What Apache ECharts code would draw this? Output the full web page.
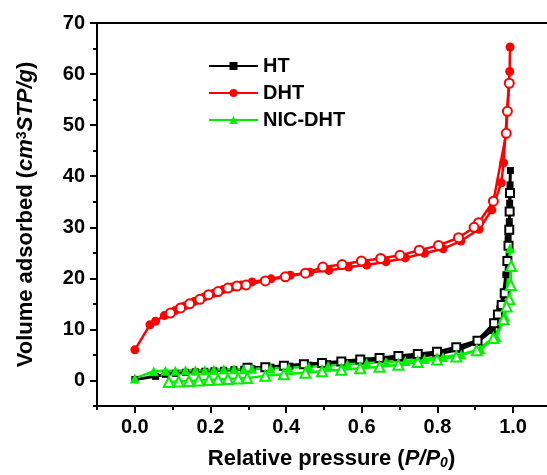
<!DOCTYPE html>
<html>
<head>
<meta charset="utf-8">
<script src="https://cdn.jsdelivr.net/npm/echarts@6/dist/echarts.min.js"></script>
<style>
  html, body { margin: 0; padding: 0; background: #fff; }
  #chart { width: 547px; height: 475px; }
</style>
</head>
<body>
<div id="chart"></div>
<script>
// N2 adsorption / desorption isotherms (relative pressure vs. volume adsorbed)

// HT
const htAdsP = [0.0, 0.055, 0.081, 0.107, 0.134, 0.16, 0.185, 0.209, 0.235, 0.262, 0.288, 0.31, 0.36, 0.41, 0.46, 0.51, 0.56, 0.61, 0.66, 0.71, 0.76, 0.81, 0.86, 0.905, 0.945, 0.965, 0.975, 0.981, 0.987, 0.99, 0.991, 0.992, 0.993];
const htAdsV = [0.2, 0.8, 1.2, 1.4, 1.6, 1.7, 1.8, 1.9, 2.0, 2.1, 2.2, 2.3, 2.6, 2.8, 3.0, 3.3, 3.5, 3.8, 4.1, 4.4, 4.8, 5.3, 6.1, 7.5, 9.8, 14.0, 17.0, 20.7, 27.9, 31.1, 34.7, 38.3, 41.1];
const htDesP = [0.992, 0.991, 0.99, 0.988, 0.985, 0.978, 0.97, 0.96, 0.95, 0.906, 0.85, 0.799, 0.748, 0.697, 0.647, 0.596, 0.546, 0.495, 0.447, 0.394, 0.345, 0.298];
const htDesV = [36.7, 33.1, 29.5, 26.4, 23.4, 17.1, 14.8, 12.9, 11.2, 7.8, 6.5, 5.6, 5.2, 4.8, 4.4, 4.1, 3.7, 3.4, 3.2, 2.9, 2.6, 2.5];

// DHT
const dhtAdsP = [0.0, 0.04, 0.055, 0.078, 0.107, 0.132, 0.158, 0.182, 0.209, 0.233, 0.257, 0.281, 0.31, 0.36, 0.411, 0.463, 0.513, 0.565, 0.613, 0.664, 0.715, 0.766, 0.815, 0.862, 0.91, 0.944, 0.969, 0.975, 0.991, 0.992];
const dhtAdsV = [6.0, 10.9, 11.6, 12.7, 13.7, 14.6, 15.5, 16.3, 17.1, 17.8, 18.3, 18.7, 19.3, 19.9, 20.6, 21.2, 21.55, 22.2, 22.6, 23.25, 24.0, 24.9, 25.8, 27.3, 29.6, 33.4, 38.7, 42.6, 60.5, 65.3];
const dhtDesP = [0.99, 0.985, 0.982, 0.948, 0.909, 0.897, 0.856, 0.803, 0.752, 0.701, 0.65, 0.599, 0.548, 0.497, 0.451, 0.398, 0.345, 0.294, 0.27, 0.246, 0.22, 0.195, 0.172, 0.145, 0.121, 0.094];
const dhtDesV = [58.2, 52.7, 48.4, 35.1, 30.9, 30.0, 27.95, 26.45, 25.5, 24.5, 23.9, 23.4, 22.7, 22.2, 21.0, 20.3, 19.5, 18.7, 18.5, 18.1, 17.4, 16.8, 15.9, 15.0, 14.2, 13.2];

// NIC-DHT
const nicAdsP = [0.0, 0.05, 0.081, 0.107, 0.134, 0.16, 0.185, 0.209, 0.235, 0.262, 0.288, 0.31, 0.359, 0.407, 0.46, 0.511, 0.562, 0.613, 0.664, 0.715, 0.766, 0.815, 0.863, 0.914, 0.956, 0.979, 0.992];
const nicAdsV = [0.4, 1.8, 1.9, 1.9, 2.0, 2.0, 2.0, 2.1, 2.2, 2.2, 2.2, 2.3, 2.4, 2.5, 2.7, 2.9, 3.2, 3.4, 3.6, 3.8, 4.2, 4.6, 5.1, 6.1, 8.5, 12.5, 25.9];
const nicDesP = [0.995, 0.994, 0.99, 0.983, 0.975, 0.948, 0.904, 0.85, 0.799, 0.748, 0.697, 0.647, 0.596, 0.546, 0.495, 0.451, 0.394, 0.345, 0.297, 0.273, 0.246, 0.22, 0.196, 0.169, 0.143, 0.116, 0.09];
const nicDesV = [22.4, 18.7, 15.9, 14.5, 12.0, 8.3, 5.9, 4.7, 4.1, 3.6, 3.1, 2.7, 2.4, 2.1, 1.8, 1.5, 1.2, 0.9, 0.5, 0.4, 0.3, 0.2, 0.1, 0.0, -0.1, -0.2, -0.3];

// axis ticks
const xMajorTicks = [0, 0.2, 0.4, 0.6, 0.8, 1.0];
const xMinorTicks = [-0.1, 0.1, 0.3, 0.5, 0.7, 0.9];
const yMajorTicks = [0, 10, 20, 30, 40, 50, 60, 70];
const yMinorTicks = [-5, 5, 15, 25, 35, 45, 55, 65];

const legendNames = ['HT', 'DHT', 'NIC-DHT'];

const FONT = 'Liberation Sans, Arial, sans-serif';
const GREEN = '#00f000';
const zip = (xs, ys) => xs.map((x, i) => [x, ys[i]]);

function isotherm(name, color, symbol, size, width, xs, ys, open) {
  return {
    name: name,
    type: 'line',
    data: zip(xs, ys),
    symbol: open ? 'empty' + symbol[0].toUpperCase() + symbol.slice(1) : symbol,
    symbolSize: size,
    showAllSymbol: true,
    lineStyle: { color: color, width: width },
    itemStyle: { color: color, borderColor: color, borderWidth: open ? 1.2 : 0 },
    emphasis: { disabled: true },
    animation: false
  };
}

const chart = echarts.init(document.getElementById('chart'), null, { renderer: 'canvas' });

const xRange = { min: -0.1, max: 1.14 };
const yRange = { min: -5, max: 70 };
const plotBox = { left: 97, top: 23, width: 469, height: 383, outerBoundsMode: 'none', containLabel: false };

chart.setOption({
  backgroundColor: '#fff',
  animation: false,
  grid: [
    // main frame with data and major ticks
    { ...plotBox, show: true, borderColor: '#000', borderWidth: 2, backgroundColor: 'transparent' },
    // same box, carries only the minor ticks
    { ...plotBox, show: false }
  ],
  legend: {
    data: legendNames,
    orient: 'vertical',
    left: 203, top: 51,
    itemWidth: 49, itemHeight: 10,
    itemGap: 7,
    textStyle: { fontFamily: FONT, fontWeight: 'bold', fontSize: 20, color: '#000' }
  },
  xAxis: [{
    type: 'value', gridIndex: 0, ...xRange,
    axisLine: { show: true, onZero: false, lineStyle: { color: '#000', width: 2 } },
    axisTick: { show: true, customValues: xMajorTicks, length: 7, lineStyle: { color: '#000', width: 2 } },
    axisLabel: {
      customValues: xMajorTicks, margin: 11,
      formatter: v => v.toFixed(1),
      fontFamily: FONT, fontWeight: 'bold', fontSize: 20, color: '#000'
    },
    splitLine: { show: false },
    name: 'Relative pressure ({i|P/P}{sub|0})',
    nameLocation: 'middle', nameGap: 42,
    nameTextStyle: {
      fontFamily: FONT, fontWeight: 'bold', fontSize: 22, color: '#000',
      rich: {
        i: { fontFamily: FONT, fontWeight: 'bold', fontStyle: 'italic', fontSize: 22, color: '#000' },
        sub: { fontFamily: FONT, fontWeight: 'bold', fontStyle: 'italic', fontSize: 14, color: '#000', verticalAlign: 'bottom', padding: [8, 0, 0, 0] }
      }
    }
  }, {
    type: 'value', gridIndex: 1, ...xRange,
    position: 'bottom',
    axisLine: { show: false, onZero: false },
    axisTick: { show: true, customValues: xMinorTicks, length: 4, lineStyle: { color: '#000', width: 2 } },
    axisLabel: { show: false },
    splitLine: { show: false }
  }],
  yAxis: [{
    type: 'value', gridIndex: 0, ...yRange,
    axisLine: { show: true, onZero: false, lineStyle: { color: '#000', width: 2 } },
    axisTick: { show: true, customValues: yMajorTicks, length: 7, lineStyle: { color: '#000', width: 2 } },
    axisLabel: {
      customValues: yMajorTicks, margin: 12,
      fontFamily: FONT, fontWeight: 'bold', fontSize: 20, color: '#000'
    },
    splitLine: { show: false },
    name: 'Volume adsorbed ({i|cm}{sup|3}{i|STP/g})',
    nameLocation: 'middle', nameGap: 60, nameRotate: 90,
    nameTextStyle: {
      fontFamily: FONT, fontWeight: 'bold', fontSize: 22, color: '#000',
      rich: {
        i: { fontFamily: FONT, fontWeight: 'bold', fontStyle: 'italic', fontSize: 22, color: '#000' },
        sup: { fontFamily: FONT, fontWeight: 'bold', fontSize: 14, color: '#000', verticalAlign: 'top', padding: [0, 0, 8, 0] }
      }
    }
  }, {
    type: 'value', gridIndex: 1, ...yRange,
    position: 'left',
    axisLine: { show: false, onZero: false },
    axisTick: { show: true, customValues: yMinorTicks, length: 4, lineStyle: { color: '#000', width: 2 } },
    axisLabel: { show: false },
    splitLine: { show: false }
  }],
  series: [
    isotherm('HT', '#000000', 'rect', 7, 3, htAdsP, htAdsV, false),
    isotherm('HT', '#000000', 'rect', 8, 3, htDesP, htDesV, true),
    isotherm('DHT', '#ff0000', 'circle', 9, 2.5, dhtAdsP, dhtAdsV, false),
    isotherm('DHT', '#ff0000', 'circle', 9, 2.5, dhtDesP, dhtDesV, true),
    isotherm('NIC-DHT', GREEN, 'triangle', 10, 2.5, nicAdsP, nicAdsV, false),
    isotherm('NIC-DHT', GREEN, 'triangle', 10, 2.5, nicDesP, nicDesV, true)
  ]
});
</script>
</body>
</html>
